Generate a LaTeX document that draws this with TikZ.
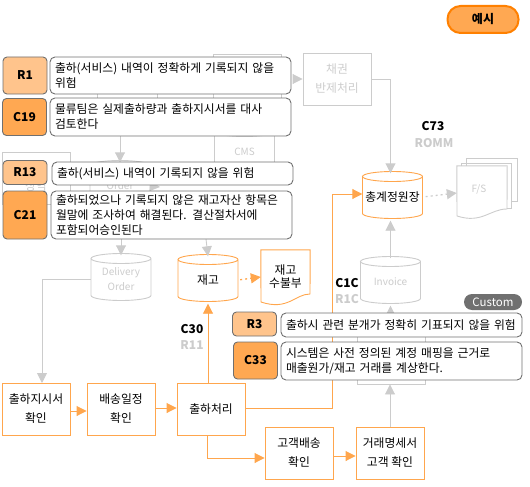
\documentclass[tikz,border=0pt]{standalone}
\usepackage{fontspec}
\setmainfont{Noto Sans CJK KR}
\usetikzlibrary{arrows.meta}
\definecolor{flowor}{HTML}{FFA64D}
\definecolor{flowgr}{HTML}{CCCCCC}
\definecolor{riskfill}{HTML}{FFC48C}
\definecolor{ctrlfill}{HTML}{FFA852}
\definecolor{tagedge}{HTML}{707070}
\tikzset{
	base/.style={font=\fontsize{11.8}{15}\selectfont, inner sep=0pt, align=center},
	procbox/.style={base, draw=flowor, line width=0.9pt, minimum width=68pt, minimum height=52pt},
	oldbox/.style={procbox, draw=flowgr, text=flowgr},
	riskbox/.style={base, draw=tagedge, line width=0.9pt, rounded corners=4pt, fill=riskfill, minimum width=44pt, font=\fontsize{12}{14}\selectfont\bfseries},
	ctrlbox/.style={riskbox, fill=ctrlfill},
	textbox/.style={base, draw=tagedge, line width=0.9pt, rounded corners=5pt, fill=white, align=left, text width=231pt, inner xsep=5pt},
	flow/.style={draw=flowor, line width=0.9pt, -{Triangle[length=10pt,width=10pt]}},
	oldflow/.style={draw=flowgr, line width=0.9pt, -{Triangle[length=10pt,width=10pt]}},
	dots/.style={line width=1.3pt, dash pattern=on 2pt off 3pt},
	ctl/.style={base, font=\fontsize{12}{14}\selectfont\bfseries},
	oldctl/.style={ctl, text=flowgr}
}
\newcommand{\lat}{\fontsize{10}{12}\selectfont}
% name, centre, edge colour, text colour, text
\newcommand{\drum}[5]{
	\draw[#3, line width=0.9pt, fill=white] #2 ++(-30,-18.5) -- ++(0,37) arc[start angle=180, end angle=360, x radius=30pt, y radius=5pt] -- ++(0,-37) arc[start angle=0, end angle=180, x radius=30pt, y radius=5pt] arc[start angle=180, end angle=360, x radius=30pt, y radius=5pt];
	\node[base, text=#4, minimum width=60pt, minimum height=47pt, yshift=-2pt] (#1) at #2 {#5};
}
\begin{document}
\begin{tikzpicture}[x=1pt, y=-1pt]
	\useasboundingbox (0,0) rectangle (530,487);
	% grey part of the flow, lying under the notes
	\node[oldbox] (sangyeok) at (36.5,178) {};
	\node[base, text=flowgr] (sangyeoktxt) at (36,186) {상역};
	\node[oldbox, minimum width=60pt] (upper) at (127,85) {};
	\node[oldbox] (upperb) at (247,80) {};
	\drum{sales}{(120,184)}{flowgr}{flowgr}{\lat Order}
	\drum{cms}{(244.5,150)}{flowgr}{flowgr}{\lat CMS}
	\node[oldbox] (bangje) at (337,79) {채권\\[4pt]반제처리};
	\drum{delivery}{(121,277)}{flowgr}{flowgr}{\lat Delivery\\\lat Order}
	\drum{invoice}{(390.5,280)}{flowgr}{flowgr}{\lat Invoice}
	\node[oldbox] (sale) at (391.5,358) {};
	\coordinate (gapa) at (160,187);
	\coordinate (gapb) at (206,239);
	\draw[oldflow] (upper.south -| sales.north) -- (sales.north);
	\draw[oldflow] (sales.east) -- (gapa);
	\draw[oldflow] (sales.south -| delivery.north) -- (delivery.north);
	\draw[oldflow] (293,79) -- (bangje.west);
	\draw[oldflow] (delivery.west) -| (42,383);
	\draw[oldflow] (invoice.south |- sale.north) -- (invoice.south);

	% F/S sheets
	\draw[flowgr, line width=0.9pt] (466,166) -- (466,158) -- (517,158) -- (517,201) -- (511,201);
	\draw[flowgr, line width=0.9pt] (461,166) -- (461,163) -- (511,163) -- (511,208) -- (507,208);
	\node[base, minimum width=50pt, minimum height=54pt] (fs) at (482,193) {};
	\draw[flowgr, line width=0.9pt] (fs.north west) -- (fs.north east) -- (507,209) .. controls (490,209) and (482,224) .. (457,216) -- cycle;
	\node[base, text=flowgr, font=\lat\itshape] (fstxt) at (479,189) {F/S};

	% orange part of the flow
	\node[procbox] (order) at (36,409) {출하지시서\\[4pt]확인};
	\node[procbox] (schedule) at (121,409) {배송일정\\[4pt]확인};
	\node[procbox] (ship) at (211,409) {출하처리};
	\node[procbox] (custship) at (299,453) {고객배송\\[4pt]확인};
	\node[procbox] (custbill) at (390,453) {거래명세서\\[4pt]고객 확인};
	\drum{ledger}{(392.5,195)}{flowor}{black}{총계정원장}
	\drum{stock}{(208,278)}{flowor}{black}{재고}
	\node[base, minimum width=49pt, minimum height=54pt] (stockbook) at (285.5,277) {재고\\[-2pt]수불부};
	\draw[draw=flowor, line width=0.9pt] (stockbook.north west) -- (stockbook.north east) -- (310,294) .. controls (295,294) and (288,311) .. (261,302) -- cycle;
	\draw[oldflow] (gapb) -- (stock.north);
	\draw[oldflow] (bangje.east) -| (invoice.north |- ledger.north);
	\draw[oldflow] (invoice.north) -- (invoice.north |- ledger.south);
	\draw[oldflow] (custbill.north) -- (custbill.north |- sale.south);
	\draw[flow] (order.east |- 0,411) -- (schedule.west |- 0,411);
	\draw[flow] (schedule.east |- 0,408) -- (ship.west |- 0,408);
	\draw[flow] (ship.north -| stock.south) -- (stock.south);
	\draw[flow] (ship.east |- 0,408) -| (332,194) -- (ledger.west |- 0,194);
	\draw[flow] (207,435) |- (custship.west |- 0,458);
	\draw[flow] (custship.east |- 0,456) -- (custbill.west |- 0,456);
	\draw[flow, dots, shorten <=2pt] (stock.east) -- (stockbook.west);
	\draw[oldflow, dots, shorten <=3pt] (ledger.east) -- (fs.west);

	% control numbers
	\node[ctl] (c73) at (433,126) {C73};
	\node[oldctl] (romm) at (434,143) {ROMM};
	\node[ctl] (c30) at (192,329) {C30};
	\node[oldctl] (r11) at (192,345) {R11};
	\node[ctl] (c1c) at (347,283) {C1C};
	\node[oldctl] (r1c) at (347,299) {R1C};

	% notes
	\node[riskbox, minimum height=37pt] (r1) at (25,75.5) {R1};
	\node[textbox, minimum height=37pt] (r1txt) at (170.5,75.5) {출하(서비스) 내역이 정확하게 기록되지 않을\\위험};
	\node[ctrlbox, minimum height=37pt] (c19) at (24.5,117) {C19};
	\node[textbox, minimum height=38pt] (c19txt) at (170.5,117) {물류팀은 실제출하량과 출하지시서를 대사\\검토한다};
	\node[riskbox, minimum height=24pt] (r13) at (25,172.5) {R13};
	\node[textbox, minimum height=23pt] (r13txt) at (172.5,173.5) {출하(서비스) 내역이 기록되지 않을 위험};
	\node[ctrlbox, minimum height=48pt] (c21) at (25,215) {C21};
	\node[textbox, minimum height=48pt] (c21txt) at (171.5,215) {출하되었으나 기록되지 않은 재고자산 항목은\\월말에 조사하여 해결된다. 결산절차서에\\포함되어승인된다};
	\node[riskbox, minimum height=24pt] (r3) at (254.5,324) {R3};
	\node[textbox, minimum height=24pt] (r3txt) at (401.5,325) {출하시 관련 분개가 정확히 기표되지 않을 위험};
	\node[ctrlbox, minimum height=37pt] (c33) at (255.5,360.5) {C33};
	\node[textbox, minimum height=38pt] (c33txt) at (401.5,361) {시스템은 사전 정의된 계정 매핑을 근거로\\매출원가/재고 거래를 계상한다.};
	\node[base, fill=tagedge, text=white, rounded corners=8pt, minimum width=58pt, minimum height=16pt, font=\fontsize{11.5}{14}\selectfont] (custom) at (493,302) {Custom};
	\node[base, draw=orange, fill=ctrlfill, line width=2pt, rounded corners=13pt, minimum width=71pt, minimum height=27pt, font=\fontsize{12}{14}\selectfont\bfseries] (legend) at (483,19.5) {예시};
\end{tikzpicture}
\end{document}
